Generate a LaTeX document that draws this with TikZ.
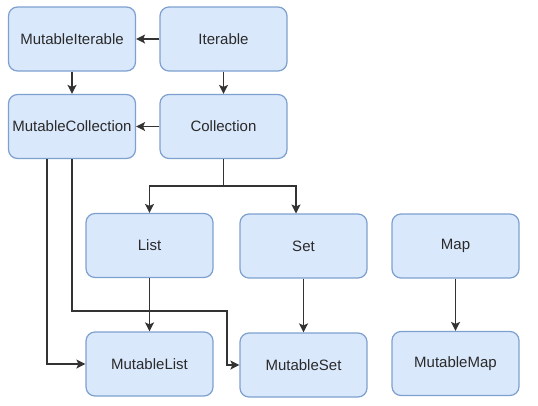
\documentclass[tikz,border=0pt]{standalone}
\usepackage{fontspec}
\setmainfont{Liberation Sans}
\usetikzlibrary{arrows.meta}
\definecolor{boxfill}{HTML}{DAE8FC}
\definecolor{boxline}{HTML}{7EA0CF}
\definecolor{txt}{HTML}{2A2A2A}
\begin{document}
\begin{tikzpicture}[x=1pt,y=-1pt,
  box/.style={draw=boxline, fill=boxfill, line width=1.2pt, rounded corners=9pt,
    minimum width=127pt, minimum height=64pt, inner sep=0pt,
    font=\fontsize{15}{17}\selectfont, text=txt},
  arr/.style={draw=black!80, line width=1.3pt, -{Stealth[length=9pt,width=9pt,inset=2pt]}}]
\useasboundingbox (0,0) rectangle (538,405);
\fill[white] (0,0) rectangle (538,405);
\node[box] (mi) at (72,39) {MutableIterable};
\node[box] (it) at (223.5,39) {Iterable};
\node[box] (mc) at (72,126.5) {MutableCollection};
\node[box] (co) at (223.5,126.5) {Collection};
\node[box] (li) at (149.5,245.5) {List};
\node[box] (se) at (303.5,246) {Set};
\node[box] (ma) at (455.5,246) {Map};
\node[box] (ml) at (149.5,364) {MutableList};
\node[box] (ms) at (303.5,365) {MutableSet};
\node[box] (mm) at (455.5,363.5) {MutableMap};
\coordinate (split) at (223.5,186);
\coordinate (b1) at (227,311);
\coordinate (setin) at (296,213.5);
\draw[arr] (it.west) -- (mi.east);
\draw[arr] (it.south) -- (co.north);
\draw[arr] (mi.south) -- (mc.north);
\draw[arr] (co.west) -- (mc.east);
\draw[arr] (co.south) -- (split) -| (li.north);
\draw[arr] (split) -| (setin);
\draw[arr] (li.south) -- (ml.north);
\draw[arr] (se.south) -- (ms.north);
\draw[arr] (ma.south) -- (mm.north);
\draw[arr] ([xshift=-25pt]mc.south) |- (ml.west);
\draw[arr] (mc.south) |- (b1) |- (ms.west);
\end{tikzpicture}
\end{document}
